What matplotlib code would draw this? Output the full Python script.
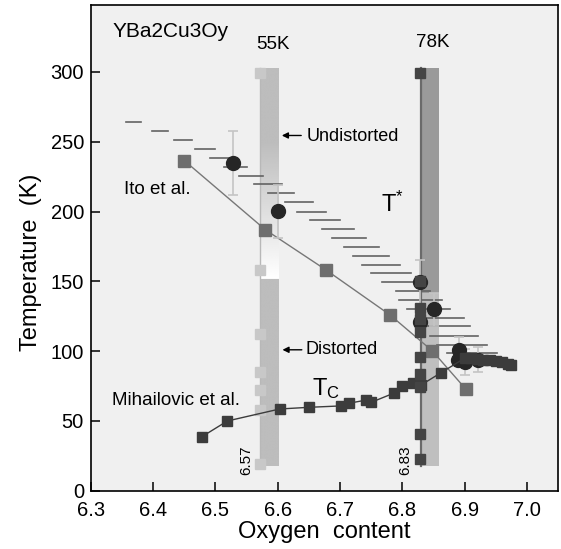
import numpy as np
import matplotlib.pyplot as plt

plt.rcParams['font.family'] = ['Liberation Sans', 'DejaVu Sans']
plt.rcParams['mathtext.fontset'] = 'custom'
plt.rcParams['mathtext.rm'] = 'Liberation Sans'
plt.rcParams['mathtext.it'] = 'Liberation Sans'

# T* steps (short horizontal dashes)
dash_T = [264, 257.5, 251, 245, 238.4, 232, 225.7, 219.8, 213.3, 206.6, 200, 193.7,
          187.5, 181, 174.8, 168.4, 161.9, 155.7, 149.2, 142.8, 136.6, 130.3, 124.1,
          117.7, 111.2, 104.7, 98.5]
dash_lo = [6.356, 6.398, 6.434, 6.467, 6.491, 6.514, 6.538, 6.562, 6.585, 6.612, 6.631,
           6.652, 6.671, 6.687, 6.706, 6.721, 6.735, 6.750, 6.767, 6.790, 6.795, 6.807,
           6.837, 6.841, 6.844, 6.856, 6.871]
dash_hi = [6.380, 6.424, 6.463, 6.499, 6.528, 6.550, 6.576, 6.606, 6.626, 6.657, 6.678,
           6.700, 6.722, 6.741, 6.762, 6.779, 6.796, 6.813, 6.830, 6.844, 6.864, 6.877,
           6.899, 6.908, 6.922, 6.936, 6.951]

# Ito et al.
ito_x = [6.450, 6.580, 6.677, 6.780, 6.848, 6.902]
ito_T = [236.5, 187, 158.3, 126, 100.2, 72.7]

# black circles with error bars
circ_x = [6.528, 6.600, 6.829, 6.851, 6.829, 6.891, 6.889, 6.900, 6.921]
circ_T = [235, 200.2, 149.5, 130, 121, 101, 93.5, 92.3, 93.8]
circ_err = [23, 19, 16, 12, 0, 9.5, 0, 9, 9]

# Mihailovic et al. Tc
tc_x = [6.478, 6.519, 6.603, 6.650, 6.701, 6.714, 6.742, 6.750, 6.786, 6.800, 6.817,
        6.830, 6.862, 6.900, 6.910, 6.920, 6.930, 6.940, 6.950, 6.960, 6.970, 6.975]
tc_T = [38.7, 50, 58.6, 59.8, 60.8, 62.7, 65, 63.4, 69.9, 75.1, 77.5,
        75.8, 84.6, 95, 95, 94.5, 94, 93.5, 93, 92, 91, 90]

# squares along the 6.83 and 6.57 columns
col83_T = [299, 150, 131, 123, 114, 96, 84, 74, 41, 23]
col57_T = [299, 158, 112, 85, 72, 58, 19]

fig = plt.figure(figsize=(5.61, 5.49), dpi=100)
ax = fig.add_axes([0.162, 0.106, 0.833, 0.885])
ax.set_facecolor('#f0f0f0')

# 55K band with white fade
band_lo, band_hi = 18, 303
tt = np.linspace(band_hi, band_lo, 400)
shade = np.full_like(tt, 0.74)
fade = (tt >= 152) & (tt <= 250)
shade[fade] = 0.74 + 0.26 * (250 - tt[fade]) / (250 - 152)
ax.imshow(shade[:, None], cmap='gray', vmin=0, vmax=1, aspect='auto',
          extent=[6.571, 6.600, band_lo, band_hi], zorder=1, interpolation='bilinear')
ax.plot([6.571, 6.571], [band_lo, band_hi], color='#b8b8b8', lw=1, zorder=1.5)
ax.plot([6.572] * len(col57_T), col57_T, 's', color='#c8c8c8', ms=7, zorder=1.6)

# 78K band
ax.fill_between([6.830, 6.858], 142, band_hi, color='#9a9a9a', lw=0, zorder=1)
ax.fill_between([6.830, 6.858], band_lo, 142, color='#bfbfbf', lw=0, zorder=1)
ax.plot([6.830, 6.830], [band_lo, band_hi], color='#6a6a6a', lw=1.6, zorder=1.5)

# T* dashes
for t, a, b in zip(dash_T, dash_lo, dash_hi):
    ax.plot([a, b], [t, t], color='#636363', lw=1.2, zorder=2)

# Ito line
ax.plot(ito_x, ito_T, '-', color='#777777', lw=1.0, zorder=3)
ax.plot(ito_x, ito_T, 's', color='#6e6e6e', ms=8, zorder=5)

# circles
for x, t, e in zip(circ_x, circ_T, circ_err):
    if e > 0:
        ax.errorbar(x, t, yerr=e, fmt='none', ecolor='#c4c4c4', elinewidth=1.2,
                    capsize=3.5, capthick=1.2, zorder=3)
ax.plot(circ_x, circ_T, 'o', color='#262626', ms=10, zorder=4)

# Tc
ax.plot(tc_x, tc_T, '-', color='#3c3c3c', lw=1.0, zorder=5)
ax.plot(tc_x, tc_T, 's', color='#3c3c3c', ms=6.5, zorder=6)
ax.plot([6.829] * len(col83_T), col83_T, 's', color='#444444', ms=6.5, zorder=6)

# labels
ax.text(6.335, 329, 'YBa2Cu3Oy', fontsize=15, va='center', ha='left')
ax.text(6.592, 320, '55K', fontsize=13.5, va='center', ha='center')
ax.text(6.849, 321, '78K', fontsize=13.5, va='center', ha='center')
ax.text(6.353, 216, 'Ito et al.', fontsize=13.5, va='center', ha='left')
ax.text(6.334, 64.6, 'Mihailovic et al.', fontsize=13.5, va='center', ha='left')
ax.text(6.646, 254, 'Undistorted', fontsize=13, va='center', ha='left')
ax.text(6.645, 101, 'Distorted', fontsize=13, va='center', ha='left')
ax.annotate('', xy=(6.602, 254.5), xytext=(6.642, 254.5),
            arrowprops=dict(arrowstyle='-|>', color='k', lw=1, mutation_scale=9))
ax.annotate('', xy=(6.603, 101), xytext=(6.643, 101),
            arrowprops=dict(arrowstyle='-|>', color='k', lw=1, mutation_scale=9))
ax.text(6.765, 205, r'T$^{*}$', fontsize=17, va='center', ha='left')
ax.text(6.655, 73, r'T$_{\mathrm{C}}$', fontsize=17, va='center', ha='left')
ax.text(6.549, 22, '6.57', fontsize=11, rotation=90, va='center', ha='center')
ax.text(6.804, 22, '6.83', fontsize=11, rotation=90, va='center', ha='center')

ax.set_xlim(6.3, 7.05)
ax.set_ylim(0, 348)
ax.set_xticks([6.3, 6.4, 6.5, 6.6, 6.7, 6.8, 6.9, 7.0])
ax.set_xticklabels(['6.3', '6.4', '6.5', '6.6', '6.7', '6.8', '6.9', '7.0'])
ax.set_yticks([0, 50, 100, 150, 200, 250, 300])
ax.tick_params(direction='in', length=6.5, width=1.1, labelsize=14.5)
ax.tick_params(axis='x', pad=7)
ax.tick_params(axis='y', pad=5)
for s in ax.spines.values():
    s.set_linewidth(1.2)
ax.set_xlabel('Oxygen  content', fontsize=17, labelpad=1)
ax.set_ylabel('Temperature  (K)', fontsize=17, labelpad=5)
ax.yaxis.set_label_coords(-0.105, 0.47)

fig.savefig('out.png', dpi=100)
